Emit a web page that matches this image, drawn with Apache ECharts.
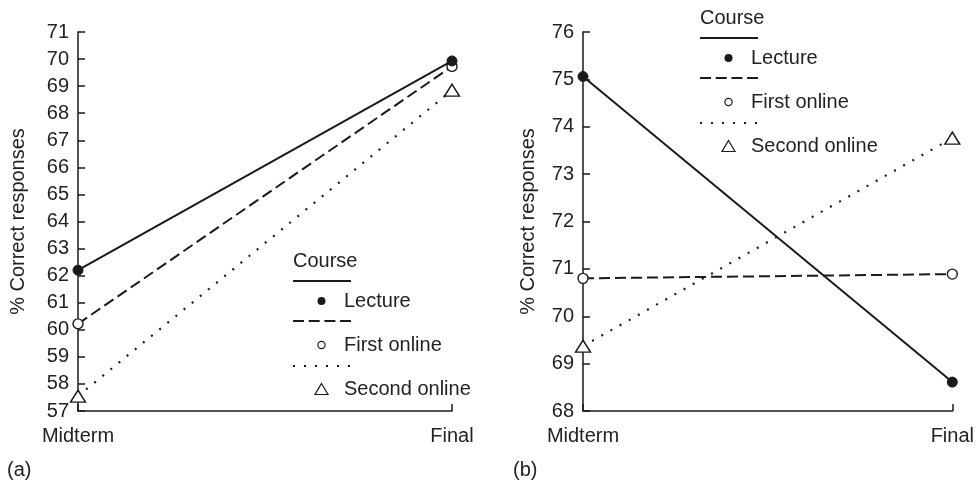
<!DOCTYPE html>
<html>
<head>
<meta charset="utf-8">
<script src="https://cdn.jsdelivr.net/npm/echarts@6/dist/echarts.min.js"></script>
<style>
  html, body { margin: 0; padding: 0; background: #fff; }
  #chart { width: 977px; height: 490px; }
</style>
</head>
<body>
<div id="chart"></div>
<script>
// Test occasions along the x axis
const categories = ['Midterm', 'Final'];

// Course names used for both panels
const courseNames = ['Lecture', 'First online', 'Second online'];

// Panel (a): % correct responses
const lectureA = [62.2, 69.93];
const firstOnlineA = [60.22, 69.73];
const secondOnlineA = [57.55, 68.85];

// Panel (b): % correct responses
const lectureB = [75.06, 68.61];
const firstOnlineB = [70.8, 70.89];
const secondOnlineB = [69.37, 73.76];

// Value ranges of the two y axes
const yRangeA = [57, 71];
const yRangeB = [68, 76];

const panelLabels = ['(a)', '(b)'];
const legendTitle = 'Course';
const yAxisTitle = '% Correct responses';

const FONT = '"Liberation Sans", Arial, Helvetica, sans-serif';
const FS = 20;
const INK = '#1a1a1a';
const TEXT = '#222';

const chart = echarts.init(document.getElementById('chart'), null, { renderer: 'canvas' });

// Line and marker style for each course
const lineStyles = [
  { type: 'solid', width: 2 },
  { type: [11, 5], width: 2 },
  { type: [2, 8.5], width: 2.2 }
];
const markerStyles = [
  { symbol: 'circle', symbolSize: 10, itemStyle: { color: INK, borderColor: INK, borderWidth: 1 } },
  { symbol: 'circle', symbolSize: 10, itemStyle: { color: '#fff', borderColor: INK, borderWidth: 1.4 } },
  { symbol: 'triangle', symbolSize: [15, 12], itemStyle: { color: '#fff', borderColor: INK, borderWidth: 1.4 } }
];
// drawing order: lecture on top
const zOrder = [4, 3, 2];

function makeSeries(values, idx, axisIdx) {
  return {
    name: courseNames[idx],
    type: 'line',
    xAxisIndex: axisIdx,
    yAxisIndex: axisIdx,
    data: values,
    symbol: markerStyles[idx].symbol,
    symbolSize: markerStyles[idx].symbolSize,
    showAllSymbol: true,
    itemStyle: markerStyles[idx].itemStyle,
    lineStyle: { color: INK, width: lineStyles[idx].width, type: lineStyles[idx].type, cap: 'butt' },
    z: zOrder[idx],
    animation: false,
    silent: true
  };
}

function makeXAxis(gridIndex) {
  return {
    type: 'category',
    gridIndex: gridIndex,
    data: categories,
    boundaryGap: false,
    axisLine: { show: true, lineStyle: { color: INK, width: 1.5 } },
    axisTick: { show: true, inside: true, length: 7, lineStyle: { color: INK, width: 1.5 } },
    axisLabel: { color: TEXT, fontFamily: FONT, fontSize: FS, margin: 15 },
    splitLine: { show: false }
  };
}

function makeYAxis(gridIndex, range, gap) {
  return {
    type: 'value',
    gridIndex: gridIndex,
    min: range[0],
    max: range[1],
    interval: 1,
    name: yAxisTitle,
    nameLocation: 'middle',
    nameGap: gap,
    nameRotate: 90,
    nameTextStyle: { color: TEXT, fontFamily: FONT, fontSize: FS },
    axisLine: { show: true, lineStyle: { color: INK, width: 1.5 } },
    axisTick: { show: true, inside: true, length: 7, lineStyle: { color: INK, width: 1.5 } },
    axisLabel: { color: TEXT, fontFamily: FONT, fontSize: FS, margin: 9 },
    splitLine: { show: false }
  };
}

function textEl(x, y, t) {
  return { type: 'text', x: x, y: y, style: { text: t, fill: TEXT, font: FS + 'px ' + FONT, textVerticalAlign: 'middle' } };
}

// Legend block: title, then each course's line sample above its marker and name
function legendBlock(x, y) {
  const els = [textEl(x, y, legendTitle)];
  const lineOffsets = [20, 60, 105];
  const itemOffsets = [40, 84, 128];
  for (let i = 0; i < 3; i++) {
    els.push({
      type: 'line',
      shape: { x1: x, y1: y + lineOffsets[i], x2: x + 58, y2: y + lineOffsets[i] },
      style: { stroke: INK, lineWidth: 2, lineDash: i === 0 ? null : (i === 1 ? [11, 4.7] : [2, 9]) }
    });
    const cx = x + 28.5;
    const cy = y + itemOffsets[i];
    if (i === 0) {
      els.push({ type: 'circle', shape: { cx: cx, cy: cy, r: 4 }, style: { fill: INK } });
    } else if (i === 1) {
      els.push({ type: 'circle', shape: { cx: cx, cy: cy, r: 3.6 }, style: { fill: '#fff', stroke: INK, lineWidth: 1.2 } });
    } else {
      els.push({
        type: 'polygon',
        shape: { points: [[cx, cy - 5.5], [cx + 6.5, cy + 5.5], [cx - 6.5, cy + 5.5]] },
        style: { fill: '#fff', stroke: INK, lineWidth: 1.2 }
      });
    }
    els.push(textEl(x + 51, cy, courseNames[i]));
  }
  return els;
}

const option = {
  backgroundColor: '#fff',
  animation: false,
  grid: [
    { left: 78, right: 525, top: 32, bottom: 79, containLabel: false },
    { left: 583, right: 21, top: 32, bottom: 79, containLabel: false }
  ],
  xAxis: [makeXAxis(0), makeXAxis(1)],
  yAxis: [makeYAxis(0, yRangeA, 50), makeYAxis(1, yRangeB, 45)],
  series: [
    makeSeries(lectureA, 0, 0),
    makeSeries(firstOnlineA, 1, 0),
    makeSeries(secondOnlineA, 2, 0),
    makeSeries(lectureB, 0, 1),
    makeSeries(firstOnlineB, 1, 1),
    makeSeries(secondOnlineB, 2, 1)
  ],
  graphic: [
    ...legendBlock(293, 261),
    ...legendBlock(700, 18),
    textEl(7, 470, panelLabels[0]),
    textEl(513, 470, panelLabels[1])
  ]
};

chart.setOption(option);
</script>
</body>
</html>
